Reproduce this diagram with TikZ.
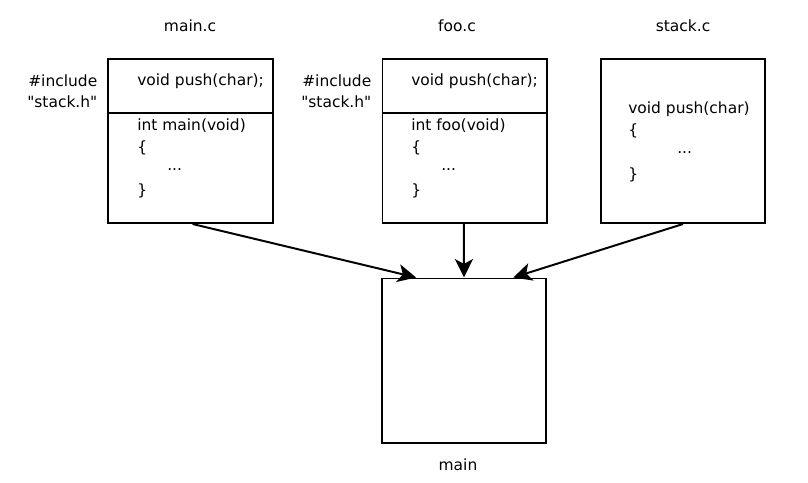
\documentclass[tikz,border=0pt]{standalone}
\usepackage{fontspec}
\setmainfont{DejaVu Sans}
\usetikzlibrary{arrows.meta}

\begin{document}
\begin{tikzpicture}[x=0.025cm, y=-0.025cm,
    filebox/.style={draw, line width=1.4pt, minimum width=4.1cm, minimum height=4.1cm, inner sep=0pt},
    code/.style={anchor=west, inner sep=0pt, font=\fontsize{11}{13}\selectfont},
    title/.style={inner sep=0pt, font=\fontsize{11}{13}\selectfont},
    link/.style={line width=1.4pt, -{Stealth[length=4.6mm, width=4.5mm, inset=1.2mm]}}]

  \useasboundingbox (0, 0) rectangle (808, 482);

  % source files
  \node[filebox] (mainc) at (190.5, 141) {};
  \node[filebox] (fooc) at (464.5, 141) {};
  \node[filebox] (stackc) at (683, 141) {};
  % linked program
  \node[filebox] (mainexe) at (464, 360.5) {};

  % prototype part of each box
  \draw[line width=1.4pt] (108, 113) -- (273, 113);
  \draw[line width=1.4pt] (382, 113) -- (547, 113);

  \node[title] (tmain) at (190, 26) {main.c};
  \node[title] (tfoo) at (457, 26) {foo.c};
  \node[title] (tstack) at (683, 26) {stack.c};
  \node[title] (tprog) at (458, 465) {main};

  % main.c
  \node[code] (incmain) at (28, 81) {\#include};
  \node[code] (hmain) at (27, 102) {\textquotedbl stack.h\textquotedbl};
  \node[code] (protomain) at (137, 81) {void push(char);};
  \node[code] (defmain) at (137, 126) {int main(void)};
  \node[code] (obmain) at (137, 148) {\{};
  \node[code] (dotsmain) at (167, 170) {...};
  \node[code] (cbmain) at (137, 191) {\}};

  % foo.c
  \node[code] (incfoo) at (302, 81) {\#include};
  \node[code] (hfoo) at (301, 102) {\textquotedbl stack.h\textquotedbl};
  \node[code] (protofoo) at (411, 81) {void push(char);};
  \node[code] (deffoo) at (411, 126) {int foo(void)};
  \node[code] (obfoo) at (411, 148) {\{};
  \node[code] (dotsfoo) at (441, 170) {...};
  \node[code] (cbfoo) at (411, 191) {\}};

  % stack.c
  \node[code] (defstack) at (628, 109) {void push(char)};
  \node[code] (obstack) at (628, 131) {\{};
  \node[code] (dotsstack) at (677, 153) {...};
  \node[code] (cbstack) at (628, 175) {\}};

  % linking
  \draw[link] ([xshift=1.5]mainc.south) -- ([xshift=25]mainexe.north west);
  \draw[link] ([xshift=-0.5]fooc.south) -- (mainexe.north);
  \draw[link] (stackc.south) -- ([xshift=-24]mainexe.north east);

\end{tikzpicture}
\end{document}
